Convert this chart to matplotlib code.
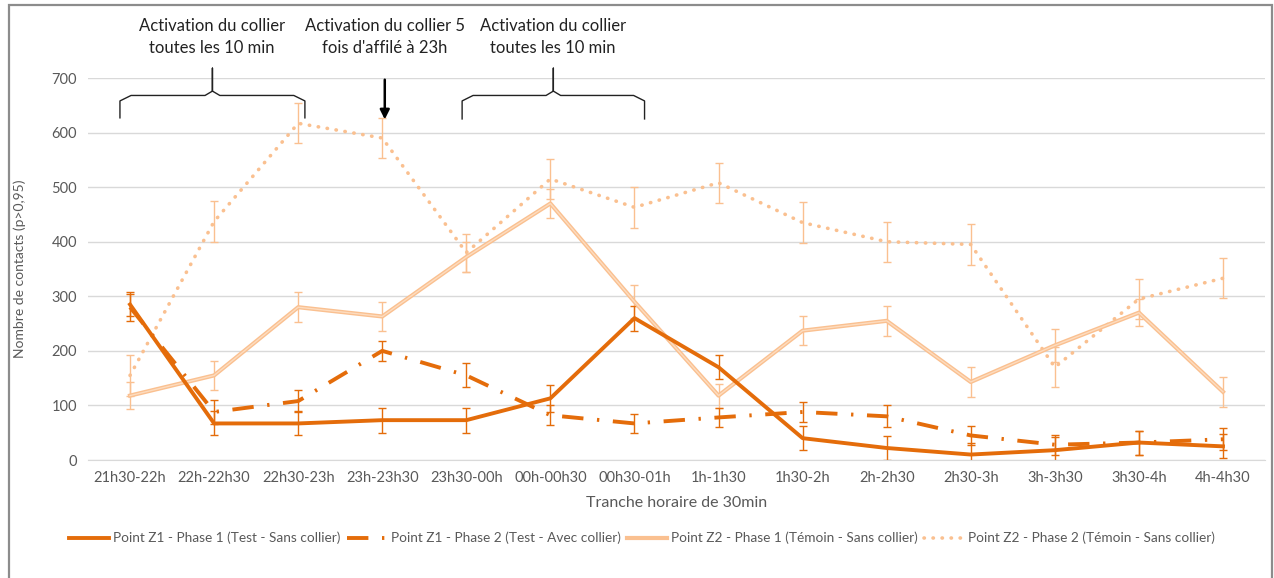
import matplotlib.pyplot as plt
from matplotlib.patches import Rectangle
import numpy as np

plt.rcParams['font.family'] = ['Lato', 'DejaVu Sans']

tranches = ["21h30-22h", "22h-22h30", "22h30-23h", "23h-23h30", "23h30-00h",
            "00h-00h30", "00h30-01h", "1h-1h30", "1h30-2h", "2h-2h30",
            "2h30-3h", "3h-3h30", "3h30-4h", "4h-4h30"]

z1_p1 = [285, 67, 67, 73, 73, 113, 260, 170, 40, 22, 10, 18, 32, 25]
z1_p1_err = [22, 22, 22, 23, 23, 25, 23, 22, 22, 22, 22, 25, 22, 22]
z1_p2 = [280, 88, 108, 200, 155, 82, 67, 78, 88, 80, 45, 28, 32, 38]
z1_p2_err = [25, 22, 20, 18, 22, 18, 18, 18, 18, 20, 18, 18, 22, 20]
z2_p1 = [118, 155, 280, 263, 372, 470, 290, 118, 237, 255, 143, 210, 270, 125]
z2_p1_err = [25, 27, 27, 27, 27, 27, 30, 22, 27, 27, 27, 30, 25, 27]
z2_p2 = [155, 437, 617, 590, 380, 515, 463, 508, 435, 400, 395, 170, 295, 333]
z2_p2_err = [37, 37, 37, 37, 35, 37, 37, 37, 37, 37, 37, 37, 37, 37]

labels = ["Point Z1 - Phase 1 (Test - Sans collier)",
          "Point Z1 - Phase 2 (Test - Avec collier)",
          "Point Z2 - Phase 1 (Témoin - Sans collier)",
          "Point Z2 - Phase 2 (Témoin - Sans collier)"]

dark = "#E46C0A"
light = "#FAC090"
grey = "#595959"

fig = plt.figure(figsize=(12.74, 5.78), dpi=100)
ax = fig.add_axes([88 / 1274, 1 - 460 / 578, (1265 - 88) / 1274, (460 - 78) / 578])
x = np.arange(len(tranches))

# error bars first
ax.errorbar(x, z2_p2, yerr=z2_p2_err, fmt='none', ecolor=light, elinewidth=1, capsize=3, capthick=1)
ax.errorbar(x, z2_p1, yerr=z2_p1_err, fmt='none', ecolor=light, elinewidth=1, capsize=3, capthick=1)
ax.errorbar(x, z1_p2, yerr=z1_p2_err, fmt='none', ecolor=dark, elinewidth=1, capsize=3, capthick=1)
ax.errorbar(x, z1_p1, yerr=z1_p1_err, fmt='none', ecolor=dark, elinewidth=1, capsize=3, capthick=1)

l4, = ax.plot(x, z2_p2, color=light, lw=2.6, linestyle=(0, (0.1, 2.4)),
              dash_capstyle='round', label=labels[3])
l3, = ax.plot(x, z2_p1, color=light, lw=3.0, label=labels[2])
ax.plot(x, z2_p1, color="#FDDCBF", lw=1.0)
l2, = ax.plot(x, z1_p2, color=dark, lw=2.8, linestyle=(0, (5.5, 3.5, 0.6, 3.5)),
              label=labels[1])
l1, = ax.plot(x, z1_p1, color=dark, lw=2.8, label=labels[0])

ax.set_xlim(-0.5, len(tranches) - 0.5)
ax.set_ylim(0, 700)
ax.set_yticks(range(0, 701, 100))
ax.set_xticks(x)
ax.set_xticklabels(tranches)
ax.tick_params(length=0, colors=grey, labelsize=10.5, pad=8)
ax.yaxis.grid(True, color="#D9D9D9", lw=1)
ax.set_axisbelow(True)
for s in ax.spines.values():
    s.set_visible(False)
ax.spines['bottom'].set_visible(True)
ax.spines['bottom'].set_color("#D9D9D9")

ax.set_xlabel("Tranche horaire de 30min", color=grey, fontsize=11.5, labelpad=8)
ax.set_ylabel("Nombre de contacts (p>0,95)", color=grey, fontsize=10, labelpad=18)

# brackets and arrow annotations
def bracket(x0, x1, ybot, ytop, ypeak):
    xm = (x0 + x1) / 2
    w = (x1 - x0)
    bx = [x0, x0, x0 + 0.06 * w, xm - 0.04 * w, xm, xm, xm, xm + 0.04 * w,
          x1 - 0.06 * w, x1, x1]
    by = [ybot, ytop - 10, ytop, ytop, ytop + 8, ypeak, ytop + 8, ytop, ytop, ytop - 10, ybot]
    ax.plot(bx, by, color="#222222", lw=1.0, clip_on=False)

bracket(-0.12, 2.08, 627, 668, 718)
bracket(3.95, 6.12, 625, 668, 718)
ax.annotate("", xy=(3.03, 619), xytext=(3.03, 702),
            arrowprops=dict(arrowstyle="-|>", color="black", lw=1.8, mutation_scale=14),
            annotation_clip=False)

txt_kw = dict(ha='center', va='center', fontsize=12, color="#222222", linespacing=1.45)
fig.text(212 / 1274, 1 - 37 / 578, "Activation du collier\ntoutes les 10 min", **txt_kw)
fig.text(385 / 1274, 1 - 37 / 578, "Activation du collier 5\nfois d'affilé à 23h", **txt_kw)
fig.text(553 / 1274, 1 - 37 / 578, "Activation du collier\ntoutes les 10 min", **txt_kw)

fig.legend(handles=[l1, l2, l3, l4], loc='center', ncol=4,
           bbox_to_anchor=(642 / 1274, 1 - 538 / 578), frameon=False,
           fontsize=9.8, labelcolor=grey, handlelength=2.9, columnspacing=0.5,
           handletextpad=0.3)

# chart border
fig.patches.append(Rectangle((8.5 / 1274, -0.05), (1272 - 8.5) / 1274, 1.05 - 5.5 / 578,
                             transform=fig.transFigure, fill=False,
                             edgecolor="#8C8C8C", lw=1.6))

fig.savefig("out.png", dpi=100)
